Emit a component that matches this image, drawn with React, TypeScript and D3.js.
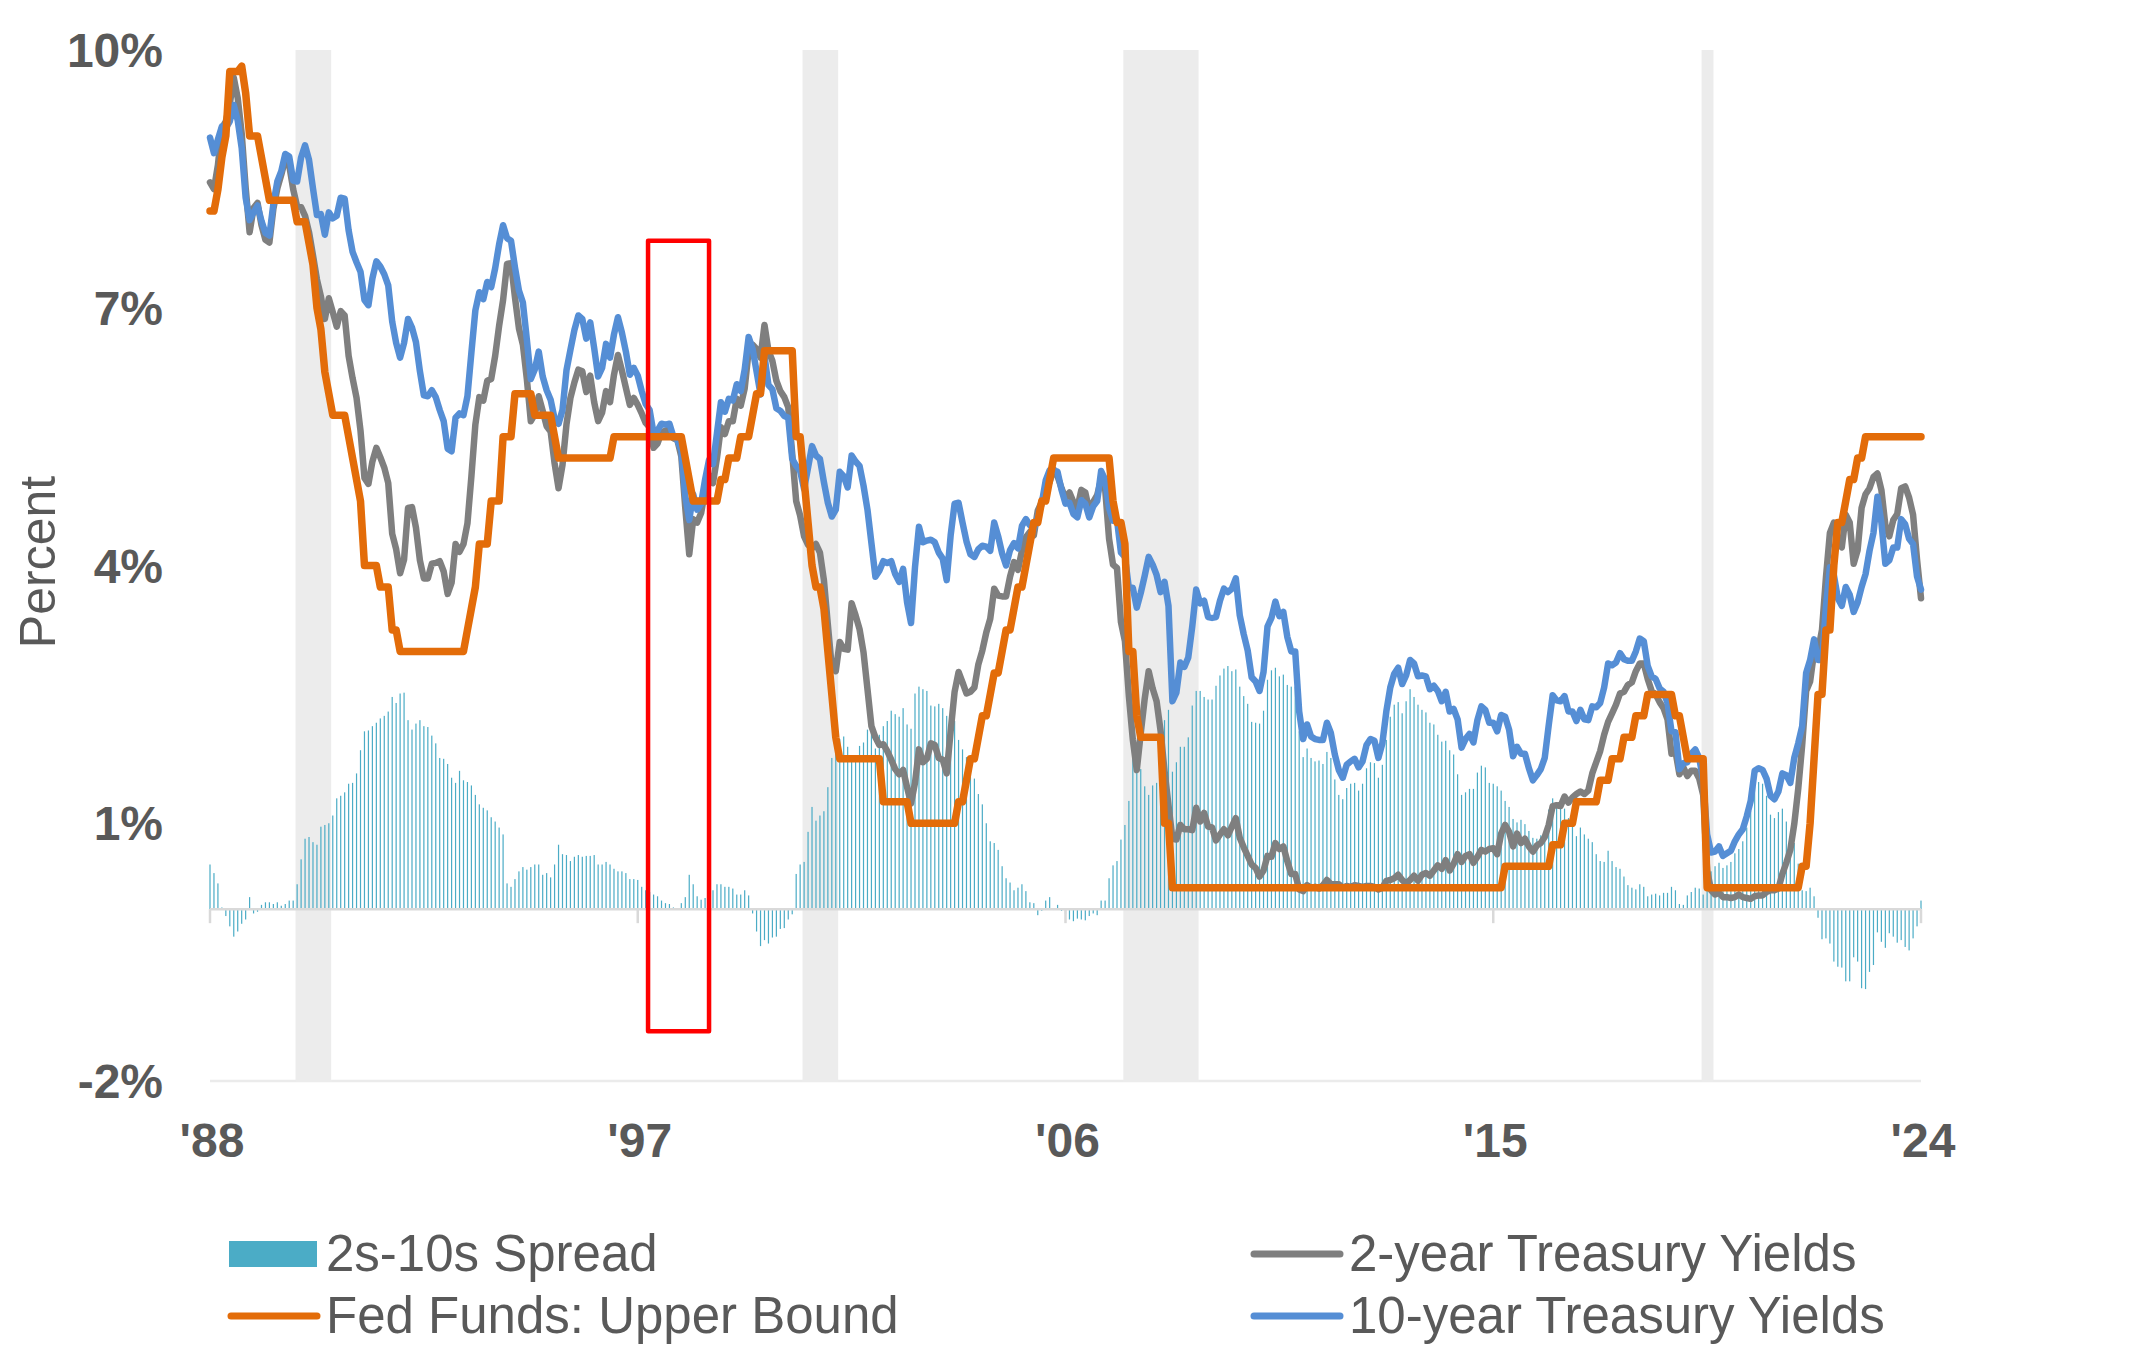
import React from "react";
import * as d3 from "d3";

// ---------------- DATA (monthly, Sep 1988 .. Sep 2024) ----------------
const START_YEAR = 1988;
const START_MONTH = 9;

const TEN_YEAR: number[] = [
  8.98, 8.80, 8.96, 9.11,
  9.09, 9.17, 9.36, 9.18, 8.86, 8.28, 8.02, 8.11, 8.19, 8.01, 7.87, 7.84,
  8.21, 8.47, 8.59, 8.79, 8.76, 8.48, 8.47, 8.75, 8.89, 8.72, 8.39, 8.08,
  8.09, 7.85, 8.11, 8.04, 8.07, 8.28, 8.27, 7.90, 7.65, 7.53, 7.42, 7.09,
  7.03, 7.34, 7.54, 7.48, 7.39, 7.26, 6.84, 6.59, 6.42, 6.59, 6.87, 6.77,
  6.60, 6.26, 5.98, 5.97, 6.04, 5.96, 5.81, 5.68, 5.36, 5.33, 5.72, 5.77,
  5.75, 5.97, 6.48, 6.97, 7.18, 7.10, 7.30, 7.24, 7.46, 7.74, 7.96, 7.81,
  7.78, 7.47, 7.20, 7.06, 6.63, 6.17, 6.28, 6.49, 6.20, 6.04, 5.93, 5.71,
  5.65, 5.81, 6.27, 6.51, 6.74, 6.91, 6.87, 6.64, 6.83, 6.53, 6.20, 6.30,
  6.58, 6.42, 6.69, 6.89, 6.71, 6.49, 6.22, 6.30, 6.21, 6.03, 5.88, 5.81,
  5.54, 5.57, 5.65, 5.64, 5.65, 5.50, 5.46, 5.34, 4.81, 4.53, 4.83, 4.65,
  4.72, 5.00, 5.23, 5.18, 5.54, 5.90, 5.79, 5.94, 5.92, 6.11, 6.03, 6.28,
  6.66, 6.52, 6.26, 5.99, 6.44, 6.10, 6.05, 5.83, 5.80, 5.74, 5.72, 5.24,
  5.16, 5.10, 4.89, 5.14, 5.39, 5.28, 5.24, 4.97, 4.73, 4.57, 4.65, 5.09,
  5.04, 4.91, 5.28, 5.21, 5.16, 4.93, 4.65, 4.26, 3.87, 3.94, 4.05, 4.03,
  4.05, 3.90, 3.81, 3.96, 3.57, 3.33, 3.98, 4.45, 4.27, 4.29, 4.30, 4.27,
  4.15, 4.08, 3.83, 4.35, 4.72, 4.73, 4.50, 4.28, 4.13, 4.10, 4.19, 4.23,
  4.22, 4.17, 4.50, 4.34, 4.14, 4.00, 4.18, 4.26, 4.20, 4.46, 4.54, 4.47,
  4.42, 4.57, 4.72, 4.99, 5.11, 5.11, 5.09, 4.88, 4.72, 4.73, 4.60, 4.56,
  4.76, 4.72, 4.56, 4.69, 4.75, 5.10, 5.00, 4.67, 4.52, 4.53, 4.15, 4.10,
  3.74, 3.74, 3.51, 3.68, 3.88, 4.10, 4.01, 3.89, 3.69, 3.81, 3.53, 2.42,
  2.52, 2.87, 2.82, 2.93, 3.29, 3.72, 3.56, 3.59, 3.40, 3.39, 3.40, 3.59,
  3.73, 3.69, 3.73, 3.85, 3.42, 3.20, 3.01, 2.70, 2.65, 2.54, 2.76, 3.29,
  3.39, 3.58, 3.41, 3.46, 3.17, 3.00, 3.00, 2.30, 1.98, 2.15, 2.01, 1.98,
  1.97, 1.97, 2.17, 2.05, 1.80, 1.62, 1.53, 1.68, 1.72, 1.75, 1.65, 1.72,
  1.91, 1.98, 1.96, 1.76, 1.93, 2.30, 2.58, 2.74, 2.81, 2.62, 2.72, 2.90,
  2.86, 2.71, 2.72, 2.71, 2.56, 2.60, 2.54, 2.42, 2.53, 2.30, 2.33, 2.21,
  1.88, 1.98, 2.04, 1.94, 2.20, 2.36, 2.32, 2.17, 2.17, 2.07, 2.26, 2.24,
  2.09, 1.78, 1.89, 1.81, 1.81, 1.64, 1.50, 1.56, 1.63, 1.76, 2.14, 2.49,
  2.43, 2.42, 2.48, 2.30, 2.30, 2.19, 2.32, 2.21, 2.20, 2.36, 2.35, 2.40,
  2.58, 2.86, 2.84, 2.87, 2.98, 2.91, 2.89, 2.89, 3.00, 3.15, 3.12, 2.83,
  2.71, 2.68, 2.57, 2.53, 2.40, 2.07, 2.06, 1.63, 1.70, 1.71, 1.81, 1.86,
  1.76, 1.50, 0.87, 0.66, 0.67, 0.73, 0.62, 0.65, 0.68, 0.79, 0.87, 0.93,
  1.08, 1.26, 1.61, 1.64, 1.62, 1.52, 1.32, 1.28, 1.37, 1.58, 1.56, 1.47,
  1.76, 1.93, 2.13, 2.75, 2.90, 3.14, 2.90, 2.90, 3.52, 3.98, 3.89, 3.62,
  3.53, 3.75, 3.66, 3.46, 3.57, 3.75, 3.90, 4.17, 4.38, 4.80, 4.50, 4.02,
  4.06, 4.21, 4.21, 4.54, 4.48, 4.31, 4.25, 3.87, 3.72,
];

const TWO_YEAR: number[] = [
  8.46, 8.38, 8.66, 9.09,
  9.17, 9.37, 9.68, 9.44, 9.03, 8.40, 7.88, 8.16, 8.22, 7.96, 7.79, 7.76,
  8.15, 8.39, 8.55, 8.73, 8.66, 8.38, 8.18, 8.17, 8.07, 7.88, 7.61, 7.33,
  7.13, 6.87, 7.11, 6.95, 6.78, 6.96, 6.91, 6.44, 6.18, 5.95, 5.57, 5.02,
  4.95, 5.21, 5.37, 5.26, 5.14, 4.96, 4.37, 4.19, 3.91, 4.07, 4.67, 4.68,
  4.44, 4.06, 3.85, 3.85, 4.02, 4.03, 4.05, 3.93, 3.67, 3.80, 4.25, 4.16,
  4.25, 4.49, 5.04, 5.64, 5.96, 5.92, 6.15, 6.17, 6.44, 6.79, 7.09, 7.51,
  7.52, 7.12, 6.76, 6.57, 6.17, 5.68, 5.76, 5.97, 5.80, 5.62, 5.56, 5.19,
  4.90, 5.17, 5.64, 5.95, 6.13, 6.28, 6.26, 6.02, 6.21, 5.90, 5.68, 5.78,
  6.03, 5.90, 6.22, 6.45, 6.27, 6.07, 5.87, 5.95, 5.87, 5.77, 5.66, 5.61,
  5.37, 5.42, 5.55, 5.57, 5.59, 5.48, 5.46, 5.27, 4.67, 4.13, 4.54, 4.50,
  4.61, 4.87, 5.05, 4.96, 5.25, 5.61, 5.53, 5.68, 5.68, 5.94, 5.86, 6.06,
  6.50, 6.57, 6.52, 6.42, 6.80, 6.50, 6.38, 6.15, 6.03, 5.96, 5.84, 5.30,
  4.75, 4.58, 4.34, 4.24, 4.20, 4.25, 4.15, 3.83, 3.31, 2.81, 2.77, 3.11,
  3.03, 3.02, 3.56, 3.42, 3.26, 2.99, 2.56, 2.13, 2.00, 1.91, 1.92, 1.84,
  1.74, 1.63, 1.57, 1.62, 1.42, 1.23, 1.47, 1.86, 1.71, 1.75, 1.93, 1.91,
  1.76, 1.74, 1.58, 2.07, 2.53, 2.76, 2.64, 2.51, 2.53, 2.58, 2.85, 3.01,
  3.22, 3.38, 3.73, 3.65, 3.64, 3.64, 3.87, 4.04, 3.95, 4.17, 4.33, 4.39,
  4.35, 4.64, 4.74, 4.89, 4.97, 5.12, 5.04, 4.90, 4.78, 4.85, 4.74, 4.67,
  4.88, 4.85, 4.64, 4.74, 4.82, 5.00, 4.90, 4.31, 4.01, 3.97, 3.34, 3.12,
  2.48, 1.97, 1.62, 2.05, 2.45, 2.77, 2.57, 2.42, 2.08, 1.61, 1.21, 0.82,
  0.81, 0.98, 0.93, 0.93, 0.92, 1.18, 1.02, 1.12, 0.96, 0.95, 0.80, 0.87,
  0.93, 0.86, 0.96, 1.06, 0.83, 0.72, 0.62, 0.52, 0.48, 0.38, 0.45, 0.62,
  0.61, 0.77, 0.70, 0.73, 0.56, 0.41, 0.41, 0.23, 0.21, 0.28, 0.25, 0.26,
  0.24, 0.28, 0.34, 0.29, 0.29, 0.29, 0.25, 0.27, 0.26, 0.28, 0.27, 0.26,
  0.27, 0.27, 0.26, 0.23, 0.25, 0.33, 0.34, 0.36, 0.40, 0.34, 0.30, 0.34,
  0.39, 0.33, 0.40, 0.42, 0.39, 0.45, 0.51, 0.47, 0.57, 0.45, 0.53, 0.64,
  0.55, 0.62, 0.64, 0.54, 0.61, 0.69, 0.67, 0.70, 0.71, 0.64, 0.88, 0.98,
  0.90, 0.73, 0.88, 0.77, 0.82, 0.73, 0.67, 0.74, 0.77, 0.84, 0.98, 1.20,
  1.21, 1.20, 1.31, 1.24, 1.30, 1.34, 1.37, 1.34, 1.38, 1.58, 1.71, 1.84,
  2.03, 2.18, 2.28, 2.38, 2.51, 2.53, 2.61, 2.64, 2.77, 2.86, 2.86, 2.68,
  2.54, 2.50, 2.41, 2.34, 2.21, 1.81, 1.84, 1.57, 1.65, 1.55, 1.61, 1.61,
  1.52, 1.33, 0.45, 0.22, 0.17, 0.19, 0.14, 0.14, 0.13, 0.14, 0.17, 0.14,
  0.13, 0.12, 0.15, 0.16, 0.16, 0.20, 0.22, 0.22, 0.24, 0.41, 0.54, 0.69,
  0.99, 1.40, 1.91, 2.54, 2.65, 2.99, 3.00, 3.25, 3.86, 4.38, 4.50, 4.29,
  4.21, 4.59, 4.50, 4.02, 4.18, 4.67, 4.83, 4.90, 5.03, 5.07, 4.88, 4.47,
  4.34, 4.53, 4.60, 4.90, 4.92, 4.79, 4.59, 4.07, 3.62,
];

const SPREAD: number[] = [
  0.52, 0.42, 0.30, 0.02,
  -0.08, -0.20, -0.32, -0.26, -0.17, -0.12, 0.14, -0.05, -0.03, 0.05, 0.08, 0.08,
  0.06, 0.08, 0.04, 0.06, 0.10, 0.10, 0.29, 0.58, 0.82, 0.84, 0.78, 0.75,
  0.96, 0.98, 1.00, 1.09, 1.29, 1.32, 1.36, 1.46, 1.47, 1.58, 1.85, 2.07,
  2.08, 2.13, 2.17, 2.22, 2.25, 2.30, 2.47, 2.40, 2.51, 2.52, 2.20, 2.09,
  2.16, 2.20, 2.13, 2.12, 2.02, 1.93, 1.76, 1.75, 1.69, 1.53, 1.47, 1.61,
  1.50, 1.48, 1.44, 1.33, 1.22, 1.18, 1.15, 1.07, 1.02, 0.95, 0.87, 0.30,
  0.26, 0.35, 0.44, 0.49, 0.46, 0.49, 0.52, 0.52, 0.40, 0.42, 0.37, 0.52,
  0.75, 0.64, 0.63, 0.56, 0.61, 0.63, 0.61, 0.62, 0.62, 0.63, 0.52, 0.52,
  0.55, 0.52, 0.47, 0.44, 0.44, 0.42, 0.35, 0.35, 0.34, 0.26, 0.22, 0.20,
  0.17, 0.15, 0.10, 0.07, 0.06, 0.02, 0.00, 0.07, 0.14, 0.40, 0.29, 0.15,
  0.11, 0.13, 0.18, 0.22, 0.29, 0.29, 0.26, 0.26, 0.24, 0.17, 0.17, 0.22,
  0.16, -0.05, -0.26, -0.43, -0.36, -0.40, -0.33, -0.32, -0.23, -0.22, -0.12, -0.06,
  0.41, 0.52, 0.55, 0.90, 1.19, 1.03, 1.09, 1.14, 1.42, 1.76, 1.88, 1.98,
  2.01, 1.89, 1.72, 1.79, 1.90, 1.94, 2.09, 2.13, 1.87, 2.03, 2.13, 2.19,
  2.31, 2.27, 2.24, 2.34, 2.15, 2.10, 2.51, 2.59, 2.56, 2.54, 2.37, 2.36,
  2.39, 2.34, 2.25, 2.28, 2.19, 1.97, 1.86, 1.77, 1.60, 1.52, 1.34, 1.22,
  1.00, 0.79, 0.77, 0.69, 0.50, 0.36, 0.31, 0.22, 0.25, 0.29, 0.21, 0.08,
  0.07, -0.07, -0.02, 0.10, 0.14, -0.01, 0.05, -0.02, -0.06, -0.12, -0.14, -0.11,
  -0.12, -0.13, -0.08, -0.05, -0.07, 0.10, 0.10, 0.36, 0.51, 0.56, 0.81, 0.98,
  1.26, 1.77, 1.89, 1.63, 1.43, 1.33, 1.44, 1.47, 1.61, 2.20, 2.32, 1.60,
  1.71, 1.89, 1.89, 2.00, 2.37, 2.54, 2.54, 2.47, 2.44, 2.44, 2.60, 2.72,
  2.80, 2.83, 2.77, 2.79, 2.59, 2.48, 2.39, 2.18, 2.17, 2.16, 2.31, 2.67,
  2.78, 2.81, 2.71, 2.73, 2.61, 2.59, 2.59, 2.07, 1.77, 1.87, 1.76, 1.72,
  1.73, 1.69, 1.83, 1.76, 1.51, 1.33, 1.28, 1.41, 1.46, 1.47, 1.38, 1.46,
  1.64, 1.71, 1.70, 1.53, 1.68, 1.97, 2.24, 2.38, 2.41, 2.28, 2.42, 2.56,
  2.47, 2.38, 2.32, 2.29, 2.17, 2.15, 2.03, 1.95, 1.96, 1.85, 1.80, 1.57,
  1.33, 1.36, 1.40, 1.40, 1.59, 1.67, 1.65, 1.47, 1.46, 1.43, 1.38, 1.26,
  1.19, 1.05, 1.01, 1.04, 0.99, 0.91, 0.83, 0.82, 0.86, 0.92, 1.16, 1.29,
  1.22, 1.22, 1.17, 1.06, 1.00, 0.85, 0.95, 0.87, 0.82, 0.78, 0.64, 0.56,
  0.55, 0.68, 0.56, 0.49, 0.47, 0.38, 0.28, 0.25, 0.23, 0.29, 0.26, 0.15,
  0.17, 0.18, 0.16, 0.19, 0.19, 0.26, 0.22, 0.06, 0.05, 0.16, 0.20, 0.25,
  0.24, 0.17, 0.42, 0.44, 0.50, 0.54, 0.48, 0.51, 0.55, 0.65, 0.70, 0.79,
  0.95, 1.14, 1.46, 1.48, 1.46, 1.32, 1.10, 1.06, 1.13, 1.17, 1.02, 0.78,
  0.77, 0.53, 0.22, 0.21, 0.25, 0.15, -0.10, -0.35, -0.34, -0.40, -0.61, -0.67,
  -0.68, -0.84, -0.84, -0.56, -0.61, -0.92, -0.93, -0.73, -0.65, -0.27, -0.38, -0.45,
  -0.28, -0.32, -0.39, -0.36, -0.44, -0.48, -0.34, -0.20, 0.10,
];

const FED_FUNDS: number[] = [
  8.125, 8.125, 8.375, 8.75,
  9.0, 9.75, 9.75, 9.75, 9.8125, 9.5, 9.0, 9.0, 9.0, 8.75, 8.5, 8.25,
  8.25, 8.25, 8.25, 8.25, 8.25, 8.25, 8.0, 8.0, 8.0, 7.75, 7.5, 7.0,
  6.75, 6.25, 6.0, 5.75, 5.75, 5.75, 5.75, 5.5, 5.25, 5.0, 4.75, 4.0,
  4.0, 4.0, 4.0, 3.75, 3.75, 3.75, 3.25, 3.25, 3.0, 3.0, 3.0, 3.0,
  3.0, 3.0, 3.0, 3.0, 3.0, 3.0, 3.0, 3.0, 3.0, 3.0, 3.0, 3.0,
  3.0, 3.25, 3.5, 3.75, 4.25, 4.25, 4.25, 4.75, 4.75, 4.75, 5.5, 5.5,
  5.5, 6.0, 6.0, 6.0, 6.0, 6.0, 5.75, 5.75, 5.75, 5.75, 5.75, 5.5,
  5.25, 5.25, 5.25, 5.25, 5.25, 5.25, 5.25, 5.25, 5.25, 5.25, 5.25, 5.25,
  5.25, 5.25, 5.5, 5.5, 5.5, 5.5, 5.5, 5.5, 5.5, 5.5, 5.5, 5.5,
  5.5, 5.5, 5.5, 5.5, 5.5, 5.5, 5.5, 5.5, 5.25, 5.0, 4.75, 4.75,
  4.75, 4.75, 4.75, 4.75, 4.75, 5.0, 5.0, 5.25, 5.25, 5.25, 5.5, 5.5,
  5.5, 5.75, 6.0, 6.0, 6.5, 6.5, 6.5, 6.5, 6.5, 6.5, 6.5, 6.5,
  5.5, 5.5, 5.0, 4.5, 4.0, 3.75, 3.75, 3.5, 3.0, 2.5, 2.0, 1.75,
  1.75, 1.75, 1.75, 1.75, 1.75, 1.75, 1.75, 1.75, 1.75, 1.75, 1.25, 1.25,
  1.25, 1.25, 1.25, 1.25, 1.25, 1.0, 1.0, 1.0, 1.0, 1.0, 1.0, 1.0,
  1.0, 1.0, 1.0, 1.0, 1.0, 1.25, 1.25, 1.5, 1.75, 1.75, 2.0, 2.25,
  2.25, 2.5, 2.75, 2.75, 3.0, 3.25, 3.25, 3.5, 3.75, 3.75, 4.0, 4.25,
  4.5, 4.5, 4.75, 4.75, 5.0, 5.25, 5.25, 5.25, 5.25, 5.25, 5.25, 5.25,
  5.25, 5.25, 5.25, 5.25, 5.25, 5.25, 5.25, 5.25, 4.75, 4.5, 4.5, 4.25,
  3.0, 3.0, 2.25, 2.0, 2.0, 2.0, 2.0, 2.0, 2.0, 1.0, 1.0, 0.25,
  0.25, 0.25, 0.25, 0.25, 0.25, 0.25, 0.25, 0.25, 0.25, 0.25, 0.25, 0.25,
  0.25, 0.25, 0.25, 0.25, 0.25, 0.25, 0.25, 0.25, 0.25, 0.25, 0.25, 0.25,
  0.25, 0.25, 0.25, 0.25, 0.25, 0.25, 0.25, 0.25, 0.25, 0.25, 0.25, 0.25,
  0.25, 0.25, 0.25, 0.25, 0.25, 0.25, 0.25, 0.25, 0.25, 0.25, 0.25, 0.25,
  0.25, 0.25, 0.25, 0.25, 0.25, 0.25, 0.25, 0.25, 0.25, 0.25, 0.25, 0.25,
  0.25, 0.25, 0.25, 0.25, 0.25, 0.25, 0.25, 0.25, 0.25, 0.25, 0.25, 0.25,
  0.25, 0.25, 0.25, 0.25, 0.25, 0.25, 0.25, 0.25, 0.25, 0.25, 0.25, 0.5,
  0.5, 0.5, 0.5, 0.5, 0.5, 0.5, 0.5, 0.5, 0.5, 0.5, 0.5, 0.75,
  0.75, 0.75, 1.0, 1.0, 1.0, 1.25, 1.25, 1.25, 1.25, 1.25, 1.25, 1.5,
  1.5, 1.5, 1.75, 1.75, 1.75, 2.0, 2.0, 2.0, 2.25, 2.25, 2.25, 2.5,
  2.5, 2.5, 2.5, 2.5, 2.5, 2.5, 2.25, 2.25, 2.0, 1.75, 1.75, 1.75,
  1.75, 1.75, 0.25, 0.25, 0.25, 0.25, 0.25, 0.25, 0.25, 0.25, 0.25, 0.25,
  0.25, 0.25, 0.25, 0.25, 0.25, 0.25, 0.25, 0.25, 0.25, 0.25, 0.25, 0.25,
  0.25, 0.25, 0.5, 0.5, 1.0, 1.75, 2.5, 2.5, 3.25, 3.25, 4.0, 4.5,
  4.5, 4.75, 5.0, 5.0, 5.25, 5.25, 5.5, 5.5, 5.5, 5.5, 5.5, 5.5,
  5.5, 5.5, 5.5, 5.5, 5.5, 5.5, 5.5, 5.5, 5.5,
];

const X_TICK_LABELS = ["'88", "'97", "'06", "'15", "'24"];
const X_TICK_DATES: [number, number][] = [[1988, 9], [1997, 9], [2006, 9], [2015, 9], [2024, 9]];
const Y_TICKS = [-2, 1, 4, 7, 10];
const RECESSIONS: [[number, number], [number, number]][] = [
  [[1990, 7], [1991, 3]],
  [[2001, 3], [2001, 11]],
  [[2007, 12], [2009, 6]],
  [[2020, 2], [2020, 4]],
];
// highlighted window (red box), in data units: months (fractional) and percent
const HIGHLIGHT = { from: [1997, 11.6] as [number, number], to: [1999, 3] as [number, number], top: 7.78, bottom: -1.42 };

const LEGEND = [
  { label: "2s-10s Spread", kind: "bar", color: "#4BACC6", col: 0, row: 0 },
  { label: "Fed Funds: Upper Bound", kind: "line", color: "#E36C09", col: 0, row: 1 },
  { label: "2-year Treasury Yields", kind: "line", color: "#7F7F7F", col: 1, row: 0 },
  { label: "10-year Treasury Yields", kind: "line", color: "#558ED5", col: 1, row: 1 },
];

// ---------------- LAYOUT ----------------
const W = 2147;
const H = 1370;
const PLOT = { left: 210, right: 1921, top: 50, bottom: 1081 };
const FONT = "'Liberation Sans', Arial, Helvetica, sans-serif";
const TEXT = "#595959";

const mIndex = (d: [number, number]) => (d[0] - START_YEAR) * 12 + (d[1] - START_MONTH);

export default function App() {
  const n = TEN_YEAR.length;
  const x = d3.scaleLinear().domain([0, n - 1]).range([PLOT.left, PLOT.right]);
  const y = d3.scaleLinear().domain([-2, 10]).range([PLOT.bottom, PLOT.top]);

  const line = d3
    .line<number>()
    .x((_, i) => x(i))
    .y((d) => y(d));

  const y0 = y(0);

  const legendColX = [229, 1252];
  const legendRowY = [1254, 1316];

  return (
    <svg
      width={W}
      height={H}
      viewBox={`0 0 ${W} ${H}`}
      style={{ position: "absolute", left: 0, top: 0, display: "block", background: "#fff" }}
      fontFamily={FONT}
    >
      <rect x={0} y={0} width={W} height={H} fill="#ffffff" />

      {/* bottom gridline (-2%) */}
      <line x1={PLOT.left} x2={PLOT.right} y1={y(-2)} y2={y(-2)} stroke="#EBEBEB" strokeWidth={2.5} />

      {/* recession shading */}
      {RECESSIONS.map(([a, b], i) => {
        const xa = x(mIndex(a) - 0.4);
        const xb = x(mIndex(b) + 0.6);
        return <rect key={i} x={xa} y={y(10)} width={xb - xa} height={y(-2) - y(10) + 1} fill="#ECECEC" />;
      })}

      {/* spread bars */}
      <g fill="#4BACC6">
        {SPREAD.map((v, i) => {
          const top = y(Math.max(0, v));
          const bot = y(Math.min(0, v));
          return <rect key={i} x={x(i) - 0.6} y={top} width={1.2} height={Math.max(0, bot - top)} />;
        })}
      </g>

      {/* zero axis with ticks */}
      <line x1={PLOT.left} x2={PLOT.right} y1={y0} y2={y0} stroke="#D9D9D9" strokeWidth={2.5} />
      {X_TICK_DATES.map((d, i) => (
        <line key={i} x1={x(mIndex(d))} x2={x(mIndex(d))} y1={y0} y2={y0 + 14} stroke="#D9D9D9" strokeWidth={2.5} />
      ))}

      {/* lines */}
      <path d={line(TWO_YEAR) || ""} fill="none" stroke="#7F7F7F" strokeWidth={6.5} strokeLinejoin="round" strokeLinecap="round" />
      <path d={line(TEN_YEAR) || ""} fill="none" stroke="#558ED5" strokeWidth={6.5} strokeLinejoin="round" strokeLinecap="round" />
      <path d={line(FED_FUNDS) || ""} fill="none" stroke="#E36C09" strokeWidth={7.5} strokeLinejoin="round" strokeLinecap="round" />

      {/* highlight box */}
      <rect
        x={x(mIndex(HIGHLIGHT.from))}
        y={y(HIGHLIGHT.top)}
        width={x(mIndex(HIGHLIGHT.to)) - x(mIndex(HIGHLIGHT.from))}
        height={y(HIGHLIGHT.bottom) - y(HIGHLIGHT.top)}
        fill="none"
        stroke="#FF0000"
        strokeWidth={4.5}
        strokeLinejoin="round"
      />

      {/* y tick labels */}
      {Y_TICKS.map((t) => (
        <text key={t} x={163} y={y(t) + 17} textAnchor="end" fontSize={48} fontWeight="bold" fill={TEXT}>
          {`${t}%`}
        </text>
      ))}

      {/* y axis title */}
      <text transform={`translate(55, 562) rotate(-90)`} textAnchor="middle" fontSize={50} fill={TEXT}>
        Percent
      </text>

      {/* x tick labels */}
      {X_TICK_DATES.map((d, i) => (
        <text key={i} x={x(mIndex(d)) + 2} y={1157} textAnchor="middle" fontSize={48} fontWeight="bold" fill={TEXT}>
          {X_TICK_LABELS[i]}
        </text>
      ))}

      {/* legend */}
      {LEGEND.map((item, i) => {
        const lx = legendColX[item.col];
        const ly = legendRowY[item.row];
        return (
          <g key={i}>
            {item.kind === "bar" ? (
              <rect x={lx} y={ly - 13} width={88} height={26} fill={item.color} />
            ) : (
              <line x1={lx + 2} x2={lx + 88} y1={ly} y2={ly} stroke={item.color} strokeWidth={7} strokeLinecap="round" />
            )}
            <text x={lx + 97} y={ly + 17} fontSize={51} fill={TEXT}>
              {item.label}
            </text>
          </g>
        );
      })}
    </svg>
  );
}
